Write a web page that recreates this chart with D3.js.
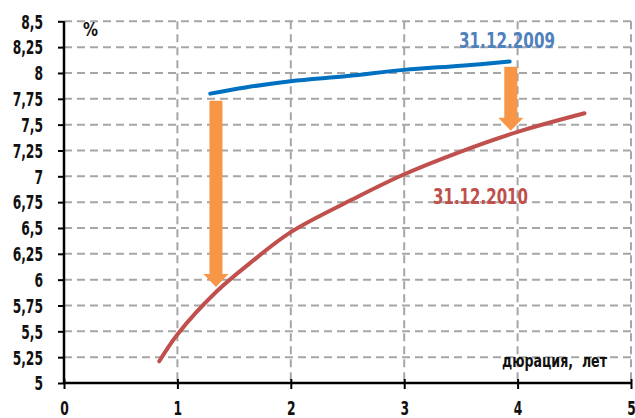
<!DOCTYPE html>
<html>
<head>
<meta charset="utf-8">
<script src="https://cdn.jsdelivr.net/npm/d3@7/dist/d3.min.js"></script>
<style>
  body { margin: 0; background: #fff; }
  svg { display: block; }
  text { font-family: 'DejaVu Sans Condensed', 'Liberation Sans Narrow', sans-serif; }
  .tick-lbl { font-size: 19px; font-weight: bold; fill: #111; }
</style>
</head>
<body>
<div id="chart"></div>
<script>
const xTicks= [0, 1, 2, 3, 4, 5];
const yTicks= [5, 5.25, 5.5, 5.75, 6, 6.25, 6.5, 6.75, 7, 7.25, 7.5, 7.75, 8, 8.25, 8.5];

// yield curve 31.12.2009 (duration, %)
const dur2009= [1.29, 1.6, 2.0, 2.5, 3.0, 3.5, 3.93];
const yld2009= [7.80, 7.86, 7.92, 7.97, 8.03, 8.07, 8.11];

// yield curve 31.12.2010
const dur2010= [0.84, 1.0, 1.35, 1.64, 2.0, 2.55, 3.0, 3.5, 4.0, 4.59];
const yld2010= [5.21, 5.47, 5.89, 6.16, 6.46, 6.78, 7.02, 7.24, 7.43, 7.61];

// arrows: duration, from, to
const arrowX= [1.34, 3.94];
const arrowFrom= [7.73, 8.06];
const arrowTo= [5.93, 7.44];

const W= 635, H= 418;

const svg= d3.select('#chart').append('svg')
  .attr('width', W).attr('height', H);

const xSc= d3.scaleLinear().domain([0, 5]).range([64, 631]);
const ySc= d3.scaleLinear().domain([5, 8.5]).range([383, 21.3]);

// squeeze text horizontally, keeps anchor
const squeeze= (sel, k, w) => sel.each(function() {
  const len= w || this.getComputedTextLength()*k;
  d3.select(this).attr('textLength', len).attr('lengthAdjust', 'spacingAndGlyphs');
});

// grid
svg.append('g').selectAll('line').data(yTicks.filter(d => d > 5)).join('line')
  .attr('x1', xSc(0)).attr('x2', xSc(5))
  .attr('y1', d => ySc(d)).attr('y2', d => ySc(d))
  .attr('stroke', '#a6a6a6').attr('stroke-width', 2)
  .attr('stroke-dasharray', '8,5');
svg.append('g').selectAll('line').data(xTicks.filter(d => d > 0)).join('line')
  .attr('x1', d => xSc(d)).attr('x2', d => xSc(d))
  .attr('y1', ySc(8.5)).attr('y2', ySc(5))
  .attr('stroke', '#a6a6a6').attr('stroke-width', 2)
  .attr('stroke-dasharray', '8,5');

// axes
const yAx= svg.append('g')
  .attr('transform', `translate(${xSc(0)},0)`)
  .call(d3.axisLeft(ySc).tickValues(yTicks).tickSize(6).tickPadding(15)
    .tickFormat(d => String(d).replace('.', ',')));
yAx.select('.domain').attr('stroke', '#000').attr('stroke-width', 2.5).attr('d', `M0,${ySc(8.5)}V${ySc(5)}`);
yAx.selectAll('.tick line').attr('stroke', '#000').attr('stroke-width', 2);
yAx.selectAll('text').attr('class', 'tick-lbl').attr('dy', '0.36em').call(squeeze, 0.72);

const xAx= svg.append('g')
  .attr('transform', `translate(0,${ySc(5)})`)
  .call(d3.axisBottom(xSc).tickValues(xTicks).tickSize(6).tickPadding(13)
    .tickFormat(d3.format('d')));
xAx.select('.domain').attr('stroke', '#000').attr('stroke-width', 2.5).attr('d', `M${xSc(0)},0H${xSc(5)}`);
xAx.selectAll('.tick line').attr('stroke', '#000').attr('stroke-width', 2).attr('y1', -4);
xAx.selectAll('text').attr('class', 'tick-lbl').call(squeeze, 0.72);

// curves
const lineGen= d3.line()
  .x(d => xSc(d[0]))
  .y(d => ySc(d[1]))
  .curve(d3.curveCatmullRom.alpha(0.5));

svg.append('path')
  .attr('d', lineGen(d3.zip(dur2010, yld2010)))
  .attr('fill', 'none').attr('stroke', '#c0504d').attr('stroke-width', 4)
  .attr('stroke-linecap', 'round');
svg.append('path')
  .attr('d', lineGen(d3.zip(dur2009, yld2009)))
  .attr('fill', 'none').attr('stroke', '#0070c0').attr('stroke-width', 4)
  .attr('stroke-linecap', 'round');

// arrows
const SHAFT= 6.5, HEAD= 12.5, HEAD_H= 13;
arrowX.forEach((a, i) => {
  const cx= xSc(a), y0= ySc(arrowFrom[i]), y1= ySc(arrowTo[i]);
  const yh= y1-HEAD_H;
  svg.append('path')
    .attr('d', `M${cx-SHAFT},${y0}H${cx+SHAFT}V${yh}H${cx+HEAD}L${cx},${y1}L${cx-HEAD},${yh}H${cx-SHAFT}Z`)
    .attr('fill', '#f79646');
});

// labels
svg.append('text')
  .attr('x', 459).attr('y', 48)
  .attr('font-size', 22).attr('font-weight', 'bold')
  .attr('fill', '#4f81bd')
  .text('31.12.2009')
  .call(squeeze, 0, 96);
svg.append('text')
  .attr('x', 433).attr('y', 204)
  .attr('font-size', 22).attr('font-weight', 'bold')
  .attr('fill', '#c0504d')
  .text('31.12.2010')
  .call(squeeze, 0, 95);
svg.append('text')
  .attr('x', 83).attr('y', 36)
  .attr('font-size', 20).attr('font-weight', 'bold')
  .attr('fill', '#111')
  .text('%')
  .call(squeeze, 0, 15);
svg.append('text')
  .attr('x', 502).attr('y', 367)
  .attr('font-size', 18).attr('font-weight', 'bold')
  .attr('fill', '#111')
  .style('white-space', 'pre')
  .text('дюрация,  лет')
  .call(squeeze, 0, 105);
</script>
</body>
</html>
